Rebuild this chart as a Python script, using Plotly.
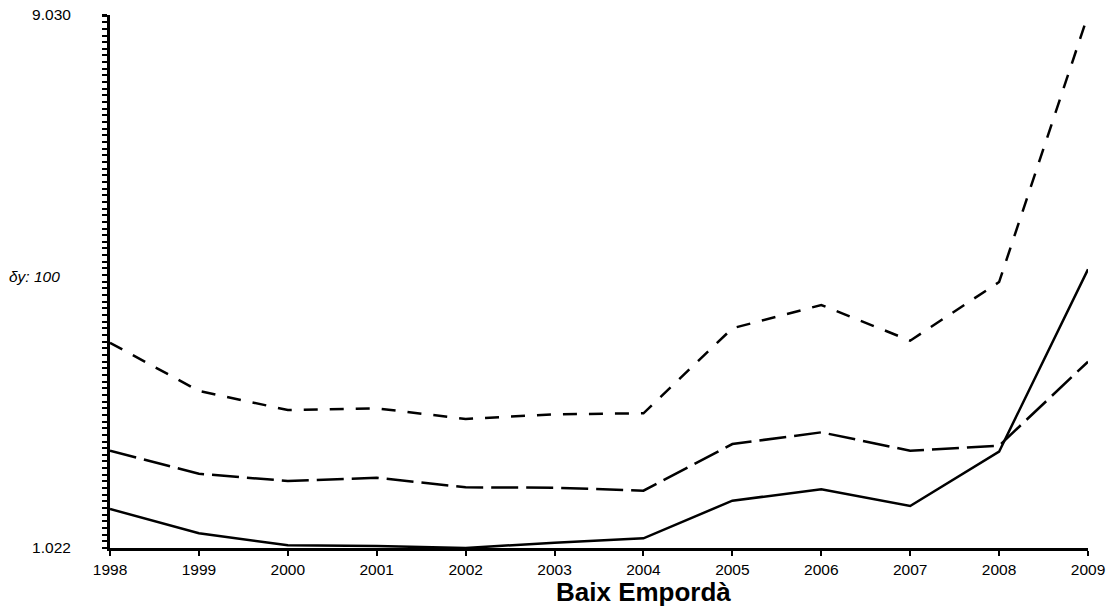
import plotly.graph_objects as go

years = [1998, 1999, 2000, 2001, 2002, 2003, 2004, 2005, 2006, 2007, 2008, 2009]
upper = [4106, 3381, 3095, 3121, 2960, 3031, 3046, 4323, 4673, 4137, 5018, 9030]
middle = [2484, 2138, 2029, 2078, 1934, 1928, 1883, 2584, 2760, 2484, 2559, 3821]
lower = [1608, 1243, 1063, 1052, 1022, 1102, 1168, 1733, 1904, 1653, 2469, 5209]

y_min, y_max = 1022, 9030
y_tickvals = [1022, 9030]
y_ticktext = ["1.022", "9.030"]
minor_step = 100
title_text = "Baix Empordà"
step_label = "δy: 100"

FONT = "Liberation Sans, Arial, sans-serif"

fig = go.Figure()
fig.add_trace(go.Scatter(x=years, y=upper, mode="lines", hoverinfo="skip",
                         line=dict(color="black", width=2.5, dash="14px,12px")))
fig.add_trace(go.Scatter(x=years, y=middle, mode="lines", hoverinfo="skip",
                         line=dict(color="black", width=2.5, dash="27px,8px")))
fig.add_trace(go.Scatter(x=years, y=lower, mode="lines", hoverinfo="skip",
                         line=dict(color="black", width=2.5)))

fig.update_layout(
    template="none",
    width=1109, height=611,
    margin=dict(l=110, r=21, t=15, b=63, pad=0),
    paper_bgcolor="white", plot_bgcolor="white",
    showlegend=False,
    hovermode=False,
    font=dict(family=FONT, size=15.5, color="black"),
    xaxis=dict(
        range=[years[0], years[-1]], automargin=False,
        tickmode="array", tickvals=years, ticktext=[str(y) for y in years],
        showgrid=False, zeroline=False,
        showline=True, linecolor="black", linewidth=3,
        ticks="outside", ticklen=5, tickwidth=2, tickcolor="black",
        tickfont=dict(family=FONT, size=15.5, color="black"),
    ),
    yaxis=dict(
        range=[y_min, y_max], automargin=False,
        tickmode="array", tickvals=y_tickvals, ticktext=y_ticktext,
        showgrid=False, zeroline=False,
        showline=True, linecolor="black", linewidth=3,
        ticks="outside", ticklen=5, tickwidth=2, tickcolor="black",
        ticklabelstandoff=28,
        tickfont=dict(family=FONT, size=15.5, color="black"),
        minor=dict(tickmode="linear", tick0=y_min, dtick=minor_step,
                   ticks="outside", ticklen=5, tickwidth=2, tickcolor="black",
                   showgrid=False),
    ),
    annotations=[
        dict(text="<b>" + title_text + "</b>", xref="paper", yref="paper",
             x=0.546, y=-0.0826, xanchor="center", yanchor="middle",
             showarrow=False, font=dict(family=FONT, size=26, color="black")),
        dict(text="<i>" + step_label + "</i>", xref="paper", yref="paper",
             x=-0.1056, y=0.509, xanchor="left", yanchor="middle",
             showarrow=False, font=dict(family=FONT, size=15.5, color="black")),
    ],
)

fig.write_html(
    "out.html",
    config={"displayModeBar": False, "staticPlot": True},
    post_script="document.body.style.margin='0';document.body.style.padding='0';document.documentElement.style.overflow='hidden';",
)
